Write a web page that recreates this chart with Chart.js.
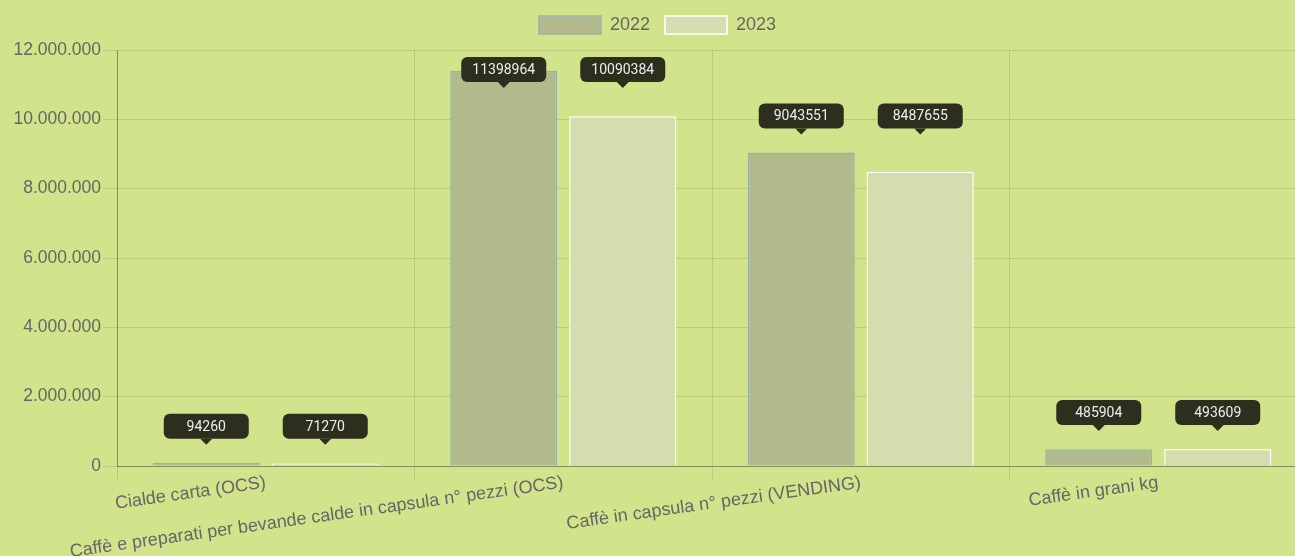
<!DOCTYPE html>
<html lang="it">
<head>
<meta charset="utf-8">
<title>Volumi caffè 2022-2023</title>
<script src="https://cdn.jsdelivr.net/npm/chart.js@4.4.1/dist/chart.umd.min.js"></script>
<style>
    html, body { margin: 0; padding: 0; background: #d2e48b; overflow: hidden; }
    #wrap { width: 1311px; height: 556px; }
</style>
</head>
<body>
<div id="wrap"><canvas id="volumiChart" width="1311" height="556"></canvas></div>
<script>
var categorie = [
    'Cialde carta (OCS)',
    'Caffè e preparati per bevande calde in capsula n° pezzi (OCS)',
    'Caffè in capsula n° pezzi (VENDING)',
    'Caffè in grani kg'
];
var anni = ['2022', '2023'];
var valori2022 = [94260, 11398964, 9043551, 485904];
var valori2023 = [71270, 10090384, 8487655, 493609];

// 12.000.000 style
function puntiMigliaia(v) {
    return String(v).replace(/\B(?=(\d{3})+(?!\d))/g, '.');
}

// dark tag with a little arrow above each bar
var etichetteValori = {
    id: 'etichetteValori',
    afterLayout: function (chart) {
        // legend sits a bit higher, leaving a gap above the plot
        chart.legend.top -= 6;
        chart.legend.bottom -= 6;
        chart.legend.left += 4;
        chart.legend.right += 4;
    },
    afterDatasetsDraw: function (chart) {
        var ctx = chart.ctx;
        var area = chart.chartArea;
        ctx.save();
        ctx.font = '14px Roboto';
        ctx.textAlign = 'center';
        ctx.textBaseline = 'middle';
        categorie.forEach(function (c, i) {
            var metas = chart.data.datasets.map(function (d, k) { return chart.getDatasetMeta(k); });
            var alto = Math.min.apply(null, metas.map(function (m) { return m.data[i].y; }));
            var fondo = alto - 24;
            var cima = fondo - 25;
            if (cima < area.top + 7) {
                cima = area.top + 7;
                fondo = cima + 25;
            }
            metas.forEach(function (m, k) {
                var x = m.data[i].x;
                var w = 85;
                ctx.fillStyle = '#2d2e1e';
                ctx.beginPath();
                ctx.roundRect(x - w / 2, cima, w, fondo - cima, 6);
                ctx.fill();
                ctx.beginPath();
                ctx.moveTo(x - 6, fondo);
                ctx.lineTo(x + 6, fondo);
                ctx.lineTo(x, fondo + 6);
                ctx.closePath();
                ctx.fill();
                ctx.fillStyle = '#eeeeee';
                ctx.fillText(String(chart.data.datasets[k].data[i]), x, (cima + fondo) / 2 + 1);
            });
        });
        ctx.restore();
    }
};

var family = "'Helvetica Neue', Helvetica, Arial, 'Liberation Sans'";

var ctx = document.getElementById('volumiChart').getContext('2d');
var chart = new Chart(ctx, {
    type: 'bar',
    plugins: [etichetteValori],
    data: {
        labels: categorie,
        datasets: [{
            label: anni[0],
            data: valori2022,
            backgroundColor: '#b2ba8d',
            borderColor: '#98b4a8',
            borderWidth: 1.5
        }, {
            label: anni[1],
            data: valori2023,
            backgroundColor: '#d4dcb0',
            borderColor: '#ffffff',
            borderWidth: 1.5
        }]
    },
    options: {
        responsive: false,
        animation: false,
        layout: { padding: { top: 0, right: 4, left: 0, bottom: 0 } },
        plugins: {
            legend: {
                labels: {
                    boxWidth: 62,
                    boxHeight: 18,
                    padding: 15,
                    color: '#666',
                    font: { family: family, size: 18 }
                }
            },
            tooltip: { enabled: false }
        },
        scales: {
            x: {
                grid: { color: 'rgba(0,0,0,0.1)', tickLength: 14 },
                border: { color: 'rgba(0,0,0,0.3)' },
                ticks: {
                    color: '#666',
                    font: { family: family, size: 18 },
                    minRotation: 8,
                    maxRotation: 8,
                    autoSkip: false,
                    padding: -8
                },
                afterFit: function (scale) { scale.height = 90; }
            },
            y: {
                min: 0,
                max: 12000000,
                grid: { color: 'rgba(0,0,0,0.1)', tickLength: 14 },
                border: { color: 'rgba(0,0,0,0.3)' },
                ticks: {
                    stepSize: 2000000,
                    color: '#666',
                    font: { family: family, size: 17.5 },
                    padding: 2,
                    callback: function (v) { return puntiMigliaia(v); }
                },
                afterFit: function (scale) {
                    scale.width = 117;
                    scale.paddingTop = 50;
                }
            }
        }
    }
});
</script>
</body>
</html>
